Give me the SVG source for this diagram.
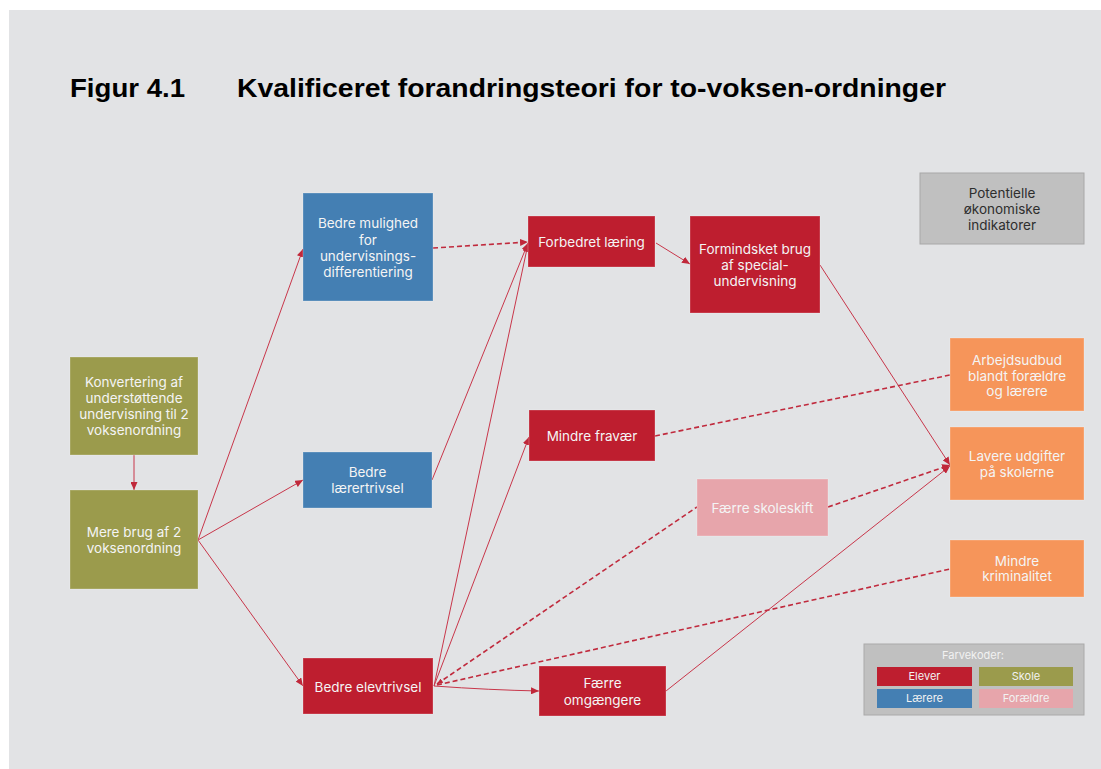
<svg xmlns="http://www.w3.org/2000/svg" width="1101" height="769" viewBox="0 0 1101 769">
  <style>
    .node-text { font-family: Inter, "Noto Sans", "Liberation Sans", sans-serif; font-size: 13.5px; fill: #f4f4f4; text-anchor: middle; }
    .dark { fill: #2e2e2e; }
    .legend-text { font-family: Inter, "Noto Sans", "Liberation Sans", sans-serif; font-size: 11px; fill: #f2f2f2; text-anchor: middle; }
    .title { font-family: "Liberation Sans", Arial, sans-serif; font-size: 26px; font-weight: 700; fill: #000; }
    .box { stroke: #ffffff; stroke-opacity: 0.25; stroke-width: 1; }
    .elev { fill: #be1e2f; }
    .skole { fill: #9b9b4c; }
    .laerer { fill: #447fb3; }
    .foraeldre { fill: #e7a5ab; }
    .okonomi { fill: #f6955a; }
    .solid { fill: none; stroke: #c8364a; stroke-width: 1; }
    .dashed { fill: none; stroke: #c02a3d; stroke-width: 1.6; stroke-dasharray: 5 3; }
  </style>
  <defs>
    <marker id="arrow" viewBox="0 0 8 7" refX="8" refY="3.5" markerWidth="8" markerHeight="7" markerUnits="userSpaceOnUse" orient="auto">
      <path d="M0,0 L8,3.5 L0,7 z" fill="#c0283a"/>
    </marker>
    <marker id="arrow-start" viewBox="0 0 6 5" refX="0" refY="2.5" markerWidth="6" markerHeight="5" markerUnits="userSpaceOnUse" orient="auto">
      <path d="M6,0 L0,2.5 L6,5 z" fill="#c0283a"/>
    </marker>
  </defs>

  <!-- page -->
  <rect x="0" y="0" width="1101" height="769" fill="#ffffff"/>
  <rect x="9" y="10" width="1092" height="759" fill="#e2e3e5"/>

  <!-- heading -->
  <text class="title" x="70" y="97" textLength="115" lengthAdjust="spacingAndGlyphs">Figur 4.1</text>
  <text class="title" x="237" y="97" textLength="709" lengthAdjust="spacingAndGlyphs">Kvalificeret forandringsteori for to-voksen-ordninger</text>

  <!-- connectors -->
  <g id="connectors">
    <line class="solid" x1="134" y1="455" x2="134" y2="490" marker-end="url(#arrow)"/>
    <line class="solid" x1="198" y1="540" x2="303" y2="249" marker-end="url(#arrow)"/>
    <line class="solid" x1="198" y1="540" x2="303" y2="480" marker-end="url(#arrow)"/>
    <line class="solid" x1="198" y1="540" x2="303" y2="686" marker-end="url(#arrow)"/>
    <line class="dashed" x1="433" y1="248" x2="528" y2="242" marker-end="url(#arrow)"/>
    <line class="solid" x1="432" y1="480" x2="528" y2="243" marker-end="url(#arrow)"/>
    <line class="solid" x1="434" y1="686" x2="528" y2="244" marker-end="url(#arrow)"/>
    <line class="solid" x1="434" y1="686" x2="529" y2="437" marker-end="url(#arrow)"/>
    <line class="dashed" x1="437" y1="684" x2="697" y2="507" marker-start="url(#arrow-start)"/>
    <line class="dashed" x1="437" y1="685" x2="950" y2="569"/>
    <path class="solid" d="M434,686 Q490,690 539,691" marker-end="url(#arrow)"/>
    <line class="solid" x1="656" y1="243" x2="690" y2="264" marker-end="url(#arrow)"/>
    <line class="solid" x1="820" y1="265" x2="950" y2="465" marker-end="url(#arrow)"/>
    <line class="dashed" x1="655" y1="436" x2="950" y2="375"/>
    <line class="dashed" x1="828" y1="507" x2="950" y2="465" marker-end="url(#arrow)"/>
    <line class="solid" x1="666" y1="691" x2="950" y2="466" marker-end="url(#arrow)"/>
  </g>

  <!-- nodes -->
  <g id="konvertering">
    <rect class="box skole" x="70" y="357" width="128" height="98"/>
    <text class="node-text" x="134" y="387">Konvertering af</text>
    <text class="node-text" x="134" y="403">understøttende</text>
    <text class="node-text" x="134" y="419">undervisning til 2</text>
    <text class="node-text" x="134" y="435">voksenordning</text>
  </g>
  <g id="mere-brug">
    <rect class="box skole" x="70" y="490" width="128" height="99"/>
    <text class="node-text" x="134" y="537">Mere brug af 2</text>
    <text class="node-text" x="134" y="553">voksenordning</text>
  </g>
  <g id="bedre-mulighed">
    <rect class="box laerer" x="303" y="193" width="130" height="108"/>
    <text class="node-text" x="368" y="228">Bedre mulighed</text>
    <text class="node-text" x="368" y="245">for</text>
    <text class="node-text" x="368" y="261">undervisnings-</text>
    <text class="node-text" x="368" y="277">differentiering</text>
  </g>
  <g id="laerertrivsel">
    <rect class="box laerer" x="303" y="452" width="129" height="56"/>
    <text class="node-text" x="367.5" y="477">Bedre</text>
    <text class="node-text" x="367.5" y="493">lærertrivsel</text>
  </g>
  <g id="elevtrivsel">
    <rect class="box elev" x="303" y="658" width="130" height="56"/>
    <text class="node-text" x="368" y="691.5">Bedre elevtrivsel</text>
  </g>
  <g id="forbedret-laering">
    <rect class="box elev" x="528" y="216" width="127" height="51"/>
    <text class="node-text" x="591.5" y="247">Forbedret læring</text>
  </g>
  <g id="mindre-fravaer">
    <rect class="box elev" x="529" y="410" width="126" height="51"/>
    <text class="node-text" x="592" y="441">Mindre fravær</text>
  </g>
  <g id="formindsket-brug">
    <rect class="box elev" x="690" y="216" width="130" height="97"/>
    <text class="node-text" x="755" y="254">Formindsket brug</text>
    <text class="node-text" x="755" y="270">af special-</text>
    <text class="node-text" x="755" y="286">undervisning</text>
  </g>
  <g id="faerre-skoleskift">
    <rect class="box foraeldre" x="697" y="479" width="131" height="57"/>
    <text class="node-text" x="762.5" y="513">Færre skoleskift</text>
  </g>
  <g id="faerre-omgaengere">
    <rect class="box elev" x="539" y="666" width="127" height="50"/>
    <text class="node-text" x="602.5" y="688">Færre</text>
    <text class="node-text" x="602.5" y="705">omgængere</text>
  </g>
  <g id="potentielle-indikatorer">
    <rect x="920" y="173" width="164" height="71" fill="#c0c0c0" stroke="#a8a8a8" stroke-width="1"/>
    <text class="node-text dark" x="1002" y="198">Potentielle</text>
    <text class="node-text dark" x="1002" y="214">økonomiske</text>
    <text class="node-text dark" x="1002" y="230">indikatorer</text>
  </g>
  <g id="arbejdsudbud">
    <rect class="box okonomi" x="950" y="338" width="134" height="73"/>
    <text class="node-text" x="1017" y="365">Arbejdsudbud</text>
    <text class="node-text" x="1017" y="381">blandt forældre</text>
    <text class="node-text" x="1017" y="396">og lærere</text>
  </g>
  <g id="lavere-udgifter">
    <rect class="box okonomi" x="950" y="427" width="134" height="73"/>
    <text class="node-text" x="1017" y="461">Lavere udgifter</text>
    <text class="node-text" x="1017" y="477">på skolerne</text>
  </g>
  <g id="mindre-kriminalitet">
    <rect class="box okonomi" x="950" y="540" width="134" height="57"/>
    <text class="node-text" x="1017" y="566">Mindre</text>
    <text class="node-text" x="1017" y="581">kriminalitet</text>
  </g>

  <!-- colour key -->
  <g id="legend">
    <rect x="864" y="644" width="220" height="71" fill="#c0c0c0" stroke="#aaaaaa" stroke-width="1"/>
    <text class="legend-text" x="973" y="659">Farvekoder:</text>
    <rect class="elev" x="877" y="667" width="95" height="19"/>
    <text class="legend-text" x="924.5" y="680">Elever</text>
    <rect class="skole" x="979" y="667" width="94" height="19"/>
    <text class="legend-text" x="1026" y="680">Skole</text>
    <rect class="laerer" x="877" y="689" width="95" height="19"/>
    <text class="legend-text" x="924.5" y="702">Lærere</text>
    <rect class="foraeldre" x="979" y="689" width="94" height="19"/>
    <text class="legend-text" x="1026" y="702">Forældre</text>
  </g>
</svg>
